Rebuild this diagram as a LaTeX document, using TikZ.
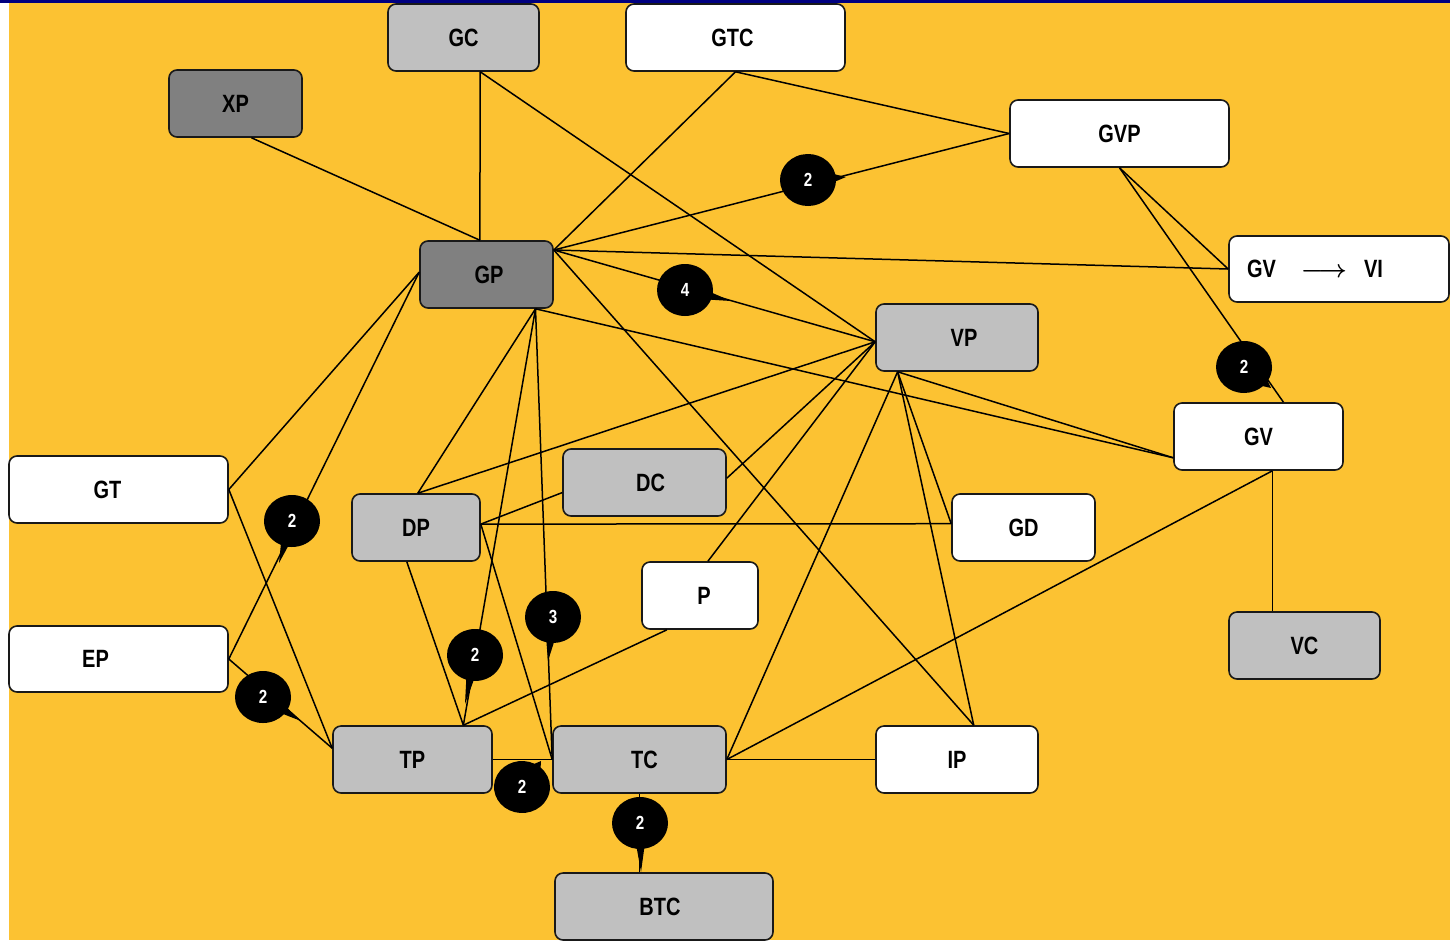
\documentclass[tikz,border=0pt]{standalone}
\usepackage{bm}
\usepackage{fontspec}
\setmainfont{Liberation Sans}[FakeStretch=0.8]
\usetikzlibrary{shapes.callouts}
\definecolor{bgorange}{HTML}{FCC232}
\definecolor{boxgray}{HTML}{C0C0C0}
\definecolor{boxdark}{HTML}{808080}
\definecolor{topnavy}{HTML}{000080}

\begin{document}
\begin{tikzpicture}[x=1pt, y=-1pt, line width=1.5pt,
  every node/.style={font=\bfseries\fontsize{25}{30}\selectfont},
  box/.style={draw=black!90, line width=1.6pt, rounded corners=8pt, inner sep=0pt, minimum height=67pt},
  whitebox/.style={box, fill=white},
  graybox/.style={box, fill=boxgray},
  darkbox/.style={box, fill=boxdark},
  bubble/.style={ellipse callout, fill=black, text=white, minimum width=56pt, minimum height=52pt, inner sep=0pt, font=\bfseries\fontsize{19}{21}\selectfont}]
	\useasboundingbox (0,0) rectangle (1450,940);
	\fill[white] (0,0) rectangle (1450,940);
	\fill[bgorange] (9,3) rectangle (1450,940);
	\fill[topnavy] (0,0) rectangle (1450,3);
	% boxes
	\node[graybox, minimum width=151pt] (GC) at (463.5,37.5) {GC};
	\node[whitebox, minimum width=219pt] (GTC) at (735.5,37.5) {GTC\hspace*{6pt}};
	\node[darkbox, minimum width=133pt] (XP) at (235.5,103.5) {XP};
	\node[whitebox, minimum width=219pt] (GVP) at (1119.5,133.5) {GVP};
	\node[darkbox, minimum width=133pt] (GP) at (486.5,274.5) {\hspace*{5pt}GP};
	\node[whitebox, minimum width=220pt, minimum height=66pt, text width=184pt, inner xsep=18pt, align=left] (GVVI) at (1339,269) {GV\quad$\bm{\longrightarrow}$\hspace{17pt}VI};
	\node[graybox, minimum width=162pt] (VP) at (957,337.5) {\hspace*{14pt}VP};
	\node[whitebox, minimum width=169pt] (GV) at (1258.5,436.5) {GV};
	\node[whitebox, minimum width=219pt] (GT) at (118.5,489.5) {GT\hspace*{22pt}};
	\node[graybox, minimum width=163pt] (DC) at (644.5,482.5) {\hspace*{12pt}DC};
	\node[graybox, minimum width=128pt] (DP) at (416,527.5) {DP};
	\node[whitebox, minimum width=143pt] (GD) at (1023.5,527.5) {GD};
	\node[whitebox, minimum width=116pt] (P) at (700,595.5) {\hspace*{8pt}P};
	\node[whitebox, minimum width=219pt, minimum height=66pt] (EP) at (118.5,659) {EP\hspace*{46pt}};
	\node[graybox, minimum width=151pt] (VC) at (1304.5,645.5) {VC};
	\node[graybox, minimum width=159pt] (TP) at (412.5,759.5) {TP};
	\node[graybox, minimum width=173pt] (TC) at (639.5,759.5) {\hspace*{10pt}TC};
	\node[whitebox, minimum width=162pt] (IP) at (957,759.5) {IP};
	\node[graybox, minimum width=218pt] (BTC) at (664,906.5) {BTC\hspace*{8pt}};
	% links
	\foreach \a/\b in {XP.-65/GP.101, GC.-64/GP.101, GC.-64/VP.183, GTC.south/GP.20, GTC.south/GVP.west,
	  GP.20/GVP.west, GP.20/GVVI.west, GP.20/VP.183, GP.20/IP.64, GP.-35/GV.194, GP.-35/DP.87,
	  GP.-35/TP.34, GP.-35/TC.west, GP.178/GT.east, GP.178/EP.east, GT.east/TP.172, EP.east/TP.172,
	  GVP.south/GVVI.west, GVP.south/GV.54, VP.183/DP.87, VP.183/DC.3, VP.183/P.77, VP.210/TC.east,
	  VP.210/GD.177, VP.210/IP.64, VP.210/GV.194, GV.-68/TC.east, DP.3/DC.187, DP.3/GD.177,
	  DP.3/TC.west, DP.-105/TP.34, P.-134/TP.34, TP.east/TC.west, TC.east/IP.west}
	  {\draw (\a) -- (\b);}
	\draw (GV.-68) -- (GV.-68 |- VC.north);
	\draw (TC.south) -- (TC.south |- BTC.north);
	% multiplicities
	\foreach \x/\y/\px/\py/\n [count=\i] in {808/180/846/177/2, 685/290/731/301/4, 1244/367/1271/388/2,
	  292/521/279/563/2, 263/697/301/721/2, 475/655/465/704/2, 553/617/548/661/3, 522/787/541/761/2,
	  640/823/641/872/2}
	  {\node[bubble, callout absolute pointer={(\px,\py)}] (bub\i) at (\x,\y) {\n};}
\end{tikzpicture}
\end{document}
